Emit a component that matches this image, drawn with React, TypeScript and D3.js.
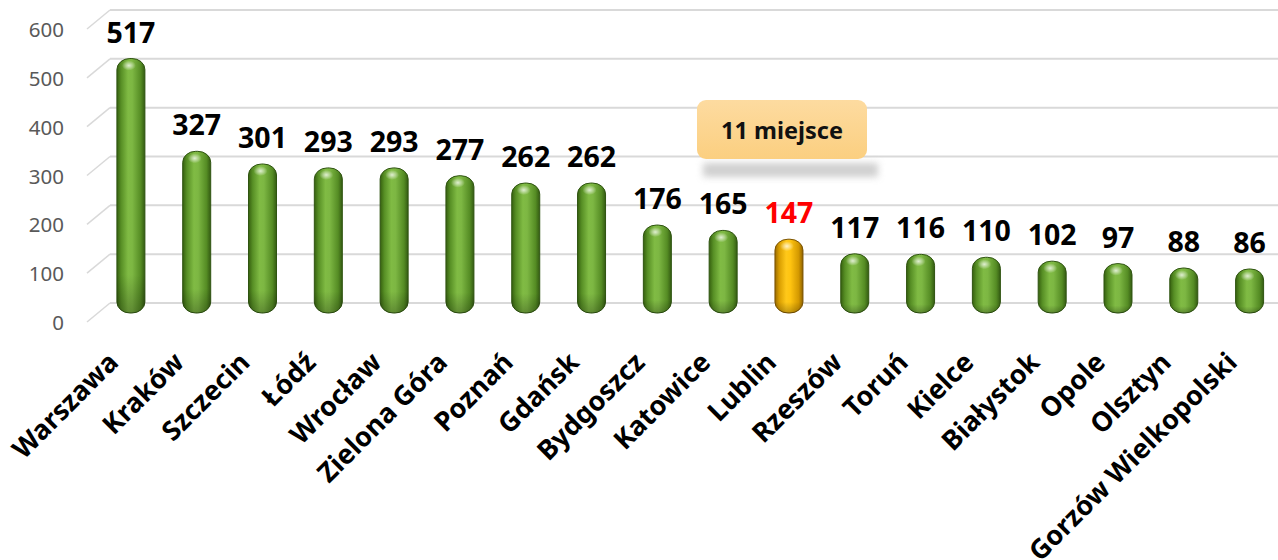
import React from "react";
import * as d3 from "d3";

const cities: string[] = [
  "Warszawa", "Kraków", "Szczecin", "Łódź", "Wrocław", "Zielona Góra", "Poznań", "Gdańsk",
  "Bydgoszcz", "Katowice", "Lublin", "Rzeszów", "Toruń", "Kielce", "Białystok", "Opole",
  "Olsztyn", "Gorzów Wielkopolski",
];
const values: number[] = [517, 327, 301, 293, 293, 277, 262, 262, 176, 165, 147, 117, 116, 110, 102, 97, 88, 86];
const highlightCity = "Lublin";
const yTicks: number[] = [0, 100, 200, 300, 400, 500, 600];
const calloutText = "11 miejsce";

const W = 1278;
const H = 560;
const FONT = "'Noto Sans', 'Open Sans', sans-serif";

export default function App() {
  const x = d3.scaleBand<string>().domain(cities).range([98, 1282.5]).padding(0);
  // back wall grid scale
  const yBack = d3.scaleLinear().domain([0, 600]).range([303, 10]);
  // bar scale (bars sit in front of the back wall)
  const yBar = d3.scaleLinear().domain([0, 600]).range([311, 18]);
  const depthDx = 23;
  const depthDy = 19;
  const barW = 28;

  return (
    <svg
      width={W}
      height={H}
      style={{ position: "absolute", left: 0, top: 0, background: "#fff" }}
      fontFamily={FONT}
    >
      <defs>
        <linearGradient id="greenG" x1="0" x2="1" y1="0" y2="0">
          <stop offset="0" stopColor="#36600f" />
          <stop offset="0.15" stopColor="#578f25" />
          <stop offset="0.4" stopColor="#80bb44" />
          <stop offset="0.55" stopColor="#7db743" />
          <stop offset="0.85" stopColor="#558c24" />
          <stop offset="1" stopColor="#345b12" />
        </linearGradient>
        <linearGradient id="goldG" x1="0" x2="1" y1="0" y2="0">
          <stop offset="0" stopColor="#9a6b00" />
          <stop offset="0.15" stopColor="#d89d00" />
          <stop offset="0.4" stopColor="#ffc81a" />
          <stop offset="0.55" stopColor="#ffc410" />
          <stop offset="0.85" stopColor="#d39800" />
          <stop offset="1" stopColor="#8f6200" />
        </linearGradient>
        <linearGradient id="vshade" x1="0" x2="0" y1="0" y2="1">
          <stop offset="0" stopColor="#000" stopOpacity="0" />
          <stop offset="0.85" stopColor="#000" stopOpacity="0" />
          <stop offset="1" stopColor="#000" stopOpacity="0.25" />
        </linearGradient>
        <radialGradient id="hl" cx="0.5" cy="0.5" r="0.5">
          <stop offset="0" stopColor="#fff" stopOpacity="0.75" />
          <stop offset="1" stopColor="#fff" stopOpacity="0" />
        </radialGradient>
        <linearGradient id="calloutG" x1="0" x2="0" y1="0" y2="1">
          <stop offset="0" stopColor="#fddba0" />
          <stop offset="1" stopColor="#fbcf80" />
        </linearGradient>
        <filter id="blur" x="-20%" y="-100%" width="140%" height="300%">
          <feGaussianBlur stdDeviation="3.5" />
        </filter>
      </defs>

      {/* gridlines */}
      <g>
        {yTicks.map((t) => (
          <g key={t}>
            <line
              x1={110}
              x2={W}
              y1={yBack(t)}
              y2={yBack(t)}
              stroke="#d9d9d9"
              strokeWidth={2}
            />
            <line
              x1={110 - depthDx}
              y1={yBack(t) + depthDy}
              x2={110}
              y2={yBack(t)}
              stroke="#d9d9d9"
              strokeWidth={1.5}
            />
            <text
              x={64}
              y={yBack(t) + depthDy}
              textAnchor="end"
              dominantBaseline="central"
              fontSize={20.5}
              fill="#595959"
            >
              {t}
            </text>
          </g>
        ))}
      </g>

      {/* callout */}
      <rect x={703} y={163} width={175} height={14} fill="#c4c4c4" filter="url(#blur)" opacity={0.8} />
      <rect x={697} y={100} width={170} height={59} rx={9} ry={9} fill="url(#calloutG)" />
      <text x={782} y={139} textAnchor="middle" fontSize={23.5} fontWeight={700} fill="#111">
        {calloutText}
      </text>

      {/* bars */}
      <g>
        {cities.map((c, i) => {
          const cx = (x(c) as number) + x.bandwidth() / 2;
          const top = yBar(values[i]);
          const bottom = yBar(0) + 2;
          const isHl = c === highlightCity;
          return (
            <g key={c}>
              <rect
                x={cx - barW / 2}
                y={top}
                width={barW}
                height={bottom - top}
                rx={13}
                ry={11}
                fill={isHl ? "url(#goldG)" : "url(#greenG)"}
                stroke={isHl ? "#7a5200" : "#2f5411"}
                strokeWidth={1}
              />
              <rect
                x={cx - barW / 2}
                y={top}
                width={barW}
                height={bottom - top}
                rx={13}
                ry={11}
                fill="url(#vshade)"
              />
              <ellipse cx={cx - 2} cy={top + 7} rx={7} ry={5} fill="url(#hl)" />
              <text
                x={cx}
                y={top - 16}
                textAnchor="middle"
                fontSize={28.5}
                fontWeight={700}
                fill={isHl ? "#ff0000" : "#000"}
              >
                {values[i]}
              </text>
            </g>
          );
        })}
      </g>

      {/* x labels */}
      <g>
        {cities.map((c) => {
          const cx = (x(c) as number) + x.bandwidth() / 2;
          const ax = cx - 11;
          const ay = 364;
          return (
            <text
              key={c}
              x={ax}
              y={ay}
              transform={`rotate(-45 ${ax} ${ay})`}
              textAnchor="end"
              fontSize={27}
              fontWeight={700}
              fill="#000"
            >
              {c}
            </text>
          );
        })}
      </g>
    </svg>
  );
}
